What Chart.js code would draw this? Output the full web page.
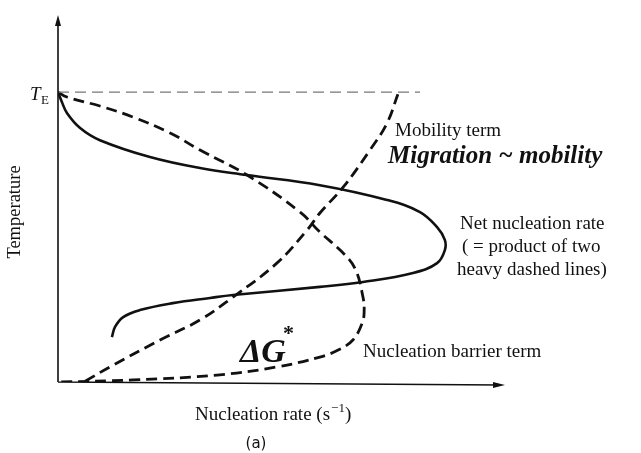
<!DOCTYPE html>
<html>
<head>
<meta charset="utf-8">
<script src="https://cdn.jsdelivr.net/npm/chart.js@4/dist/chart.umd.min.js"></script>
<style>
  html, body { margin: 0; padding: 0; background: #fff; }
  #wrap { width: 641px; height: 453px; }
</style>
</head>
<body>
<div id="wrap"><canvas id="nucleation"></canvas></div>
<script>
// rate in arbitrary units (1 = peak of net rate), temperature as T / T_E
let mobilityRate = [0.070, 0.134, 0.263, 0.366, 0.451, 0.564, 0.642, 0.675, 0.735, 0.804, 0.848, 0.876];
let mobilityTemp = [0.003, 0.052, 0.145, 0.214, 0.293, 0.410, 0.524, 0.583, 0.672, 0.800, 0.893, 0.993];

let barrierRate = [0, 0.023, 0.108, 0.193, 0.289, 0.366, 0.487, 0.624, 0.675, 0.727, 0.765, 0.786, 0.789, 0.784, 0.760, 0.722, 0.675, 0.564, 0.410, 0.193, 0];
let barrierTemp = [1.0, 0.983, 0.952, 0.914, 0.859, 0.800, 0.714, 0.586, 0.517, 0.455, 0.393, 0.293, 0.241, 0.203, 0.145, 0.110, 0.086, 0.052, 0.024, 0.007, 0];

let netRate = [0, 0.010, 0.023, 0.057, 0.108, 0.237, 0.366, 0.487, 0.675, 0.848, 0.933, 0.977, 0.997, 0.997, 0.977, 0.915, 0.786, 0.675, 0.451, 0.392, 0.296, 0.211, 0.168, 0.147, 0.139];
let netTemp = [1.0, 0.966, 0.928, 0.876, 0.834, 0.776, 0.738, 0.714, 0.679, 0.628, 0.586, 0.534, 0.490, 0.455, 0.410, 0.376, 0.345, 0.328, 0.300, 0.290, 0.272, 0.248, 0.224, 0.190, 0.155];

let eutecticRate = [0, 0.933];
let eutecticTemp = [1.0, 1.0];

function toPoints(xs, ys) {
    return xs.map((x, i) => ({ x: x, y: ys[i] }));
}

const serif = "'Liberation Serif', 'DejaVu Serif', serif";

// axes with arrow heads and all the text labels
const decorations = {
    id: 'decorations',
    afterDatasetsDraw(chart) {
        const ctx = chart.ctx;
        const xs = chart.scales.x;
        const ys = chart.scales.y;
        const x0 = xs.getPixelForValue(0);
        const y0 = ys.getPixelForValue(0);
        const xEnd = xs.getPixelForValue(1.152);
        const yEnd = ys.getPixelForValue(1.266);

        ctx.save();
        ctx.strokeStyle = '#111';
        ctx.fillStyle = '#111';
        ctx.lineWidth = 1.6;
        ctx.setLineDash([]);
        ctx.beginPath();
        ctx.moveTo(x0, y0);
        ctx.lineTo(x0, yEnd + 4);
        ctx.moveTo(x0, y0);
        ctx.lineTo(xEnd - 4, y0 + 3);
        ctx.stroke();

        // arrow heads
        ctx.beginPath();
        ctx.moveTo(x0, yEnd);
        ctx.lineTo(x0 - 3, yEnd + 11);
        ctx.lineTo(x0 + 3, yEnd + 11);
        ctx.closePath();
        ctx.fill();
        ctx.beginPath();
        ctx.moveTo(xEnd, y0 + 3);
        ctx.lineTo(xEnd - 12, y0);
        ctx.lineTo(xEnd - 12, y0 + 6);
        ctx.closePath();
        ctx.fill();

        // T_E
        const yTE = ys.getPixelForValue(1.0);
        ctx.textBaseline = 'alphabetic';
        ctx.textAlign = 'left';
        ctx.font = 'italic 19px ' + serif;
        ctx.fillText('T', 30, yTE + 8);
        ctx.font = '13px ' + serif;
        ctx.fillText('E', 41, yTE + 12);

        // x axis title, with superscript unit
        ctx.font = '19px ' + serif;
        let tx = 195;
        ctx.fillText('Nucleation rate (s', tx, 420);
        tx += ctx.measureText('Nucleation rate (s').width;
        ctx.font = '13px ' + serif;
        ctx.fillText('\u22121', tx + 1, 412);
        tx += ctx.measureText('\u22121').width + 1;
        ctx.font = '19px ' + serif;
        ctx.fillText(')', tx, 420);

        // y axis title
        ctx.textAlign = 'center';
        ctx.font = '18.5px ' + serif;
        ctx.save();
        ctx.translate(20, 212);
        ctx.rotate(-Math.PI / 2);
        ctx.fillText('Temperature', 0, 0);
        ctx.restore();

        ctx.font = '15px "DejaVu Sans", sans-serif';
        ctx.fillText('(a)', 256, 448);

        // curve labels
        ctx.textAlign = 'left';
        ctx.font = '19px ' + serif;
        ctx.fillText('Mobility term', 395, 136);
        ctx.fillText('Net nucleation rate', 460, 229);
        ctx.fillText('( = product of two', 462, 252);
        ctx.fillText('heavy dashed lines)', 457, 275);
        ctx.fillText('Nucleation barrier term', 363, 357);

        // pen notes
        ctx.font = 'bold italic 25px ' + serif;
        ctx.fillText('Migration ~ mobility', 388, 163, 252);
        ctx.font = 'bold italic 34px ' + serif;
        ctx.fillText('\u0394G', 240, 362);
        ctx.font = 'bold 22px ' + serif;
        ctx.fillText('*', 283, 340);
        ctx.restore();
    }
};

let nucleationChart = new Chart(document.getElementById('nucleation'), {
    type: 'scatter',
    data: {
        datasets: [
            {
                label: 'T_E',
                data: toPoints(eutecticRate, eutecticTemp),
                showLine: true,
                borderColor: '#777',
                borderWidth: 1.3,
                borderDash: [11, 6],
                pointRadius: 0
            },
            {
                label: 'Mobility term',
                data: toPoints(mobilityRate, mobilityTemp),
                showLine: true,
                borderColor: '#111',
                borderWidth: 2.8,
                borderDash: [11, 6],
                tension: 0.4,
                pointRadius: 0
            },
            {
                label: 'Nucleation barrier term',
                data: toPoints(barrierRate, barrierTemp),
                showLine: true,
                borderColor: '#111',
                borderWidth: 2.8,
                borderDash: [11, 6],
                tension: 0.4,
                pointRadius: 0
            },
            {
                label: 'Net nucleation rate',
                data: toPoints(netRate, netTemp),
                showLine: true,
                borderColor: '#111',
                borderWidth: 2.6,
                tension: 0.4,
                pointRadius: 0
            }
        ]
    },
    options: {
        responsive: true,
        maintainAspectRatio: false,
        animation: false,
        layout: {
            padding: { left: 58, right: 1, top: 15, bottom: 71 }
        },
        scales: {
            x: { type: 'linear', min: 0, max: 1.5, display: false },
            y: { type: 'linear', min: 0, max: 1.266, display: false }
        },
        plugins: {
            legend: { display: false },
            tooltip: { enabled: false }
        }
    },
    plugins: [decorations]
});
</script>
</body>
</html>
